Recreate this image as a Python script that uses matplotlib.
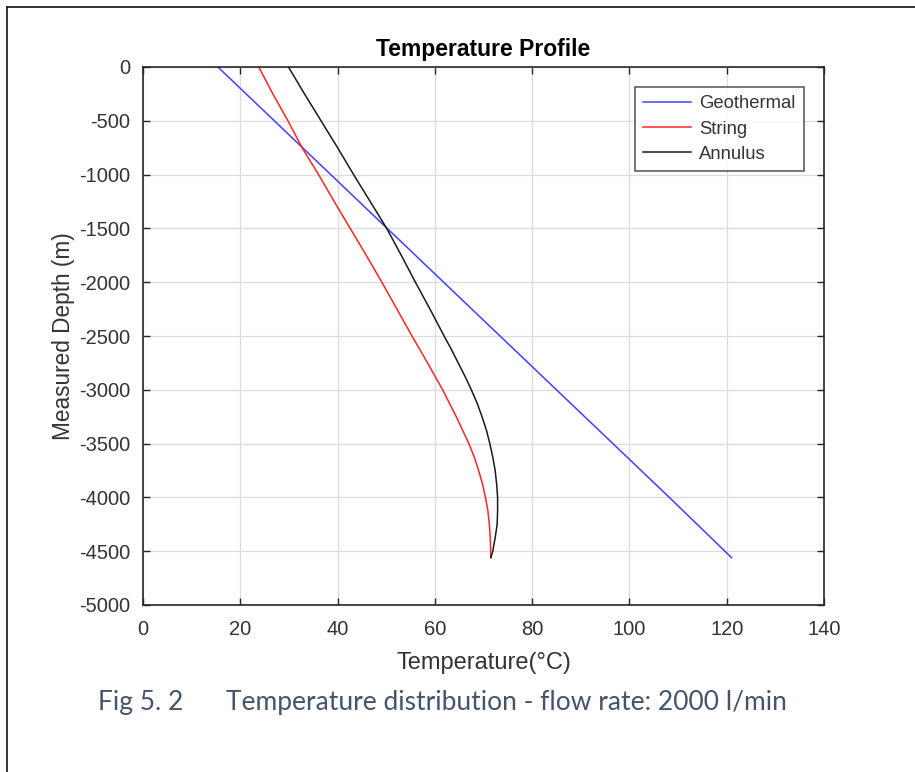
import matplotlib
matplotlib.use("Agg")
import matplotlib.pyplot as plt
from matplotlib.lines import Line2D

# Measured depth (m) and temperature (°C) along the well
geo_depth = [0, -500, -1000, -1500, -2000, -2500, -3000, -3500, -4000, -4560]
geo_temp = [15.4, 27.0, 38.6, 50.2, 61.8, 73.4, 85.0, 96.6, 108.2, 121.0]

string_depth = [0, -250, -500, -750, -1000, -1250, -1500, -1750, -2000, -2250,
                -2500, -2750, -3000, -3125, -3250, -3375, -3500, -3625, -3750,
                -3875, -4000, -4125, -4250, -4375, -4560]
string_temp = [23.8, 26.7, 29.8, 32.7, 36.1, 39.3, 42.6, 45.9, 49.1, 52.2,
               55.3, 58.5, 61.6, 63.0, 64.4, 65.7, 67.0, 68.1, 69.0,
               69.8, 70.4, 70.9, 71.2, 71.4, 71.5]

annulus_depth = [0, -250, -500, -750, -1000, -1250, -1500, -1750, -2000, -2250,
                 -2500, -2625, -2750, -2875, -3000, -3125, -3250, -3375, -3500,
                 -3625, -3750, -3875, -4000, -4125, -4250, -4375, -4500, -4560]
annulus_temp = [29.9, 33.2, 36.6, 40.0, 43.3, 46.7, 50.1, 53.1, 56.0, 59.0,
                61.9, 63.4, 64.8, 66.2, 67.5, 68.7, 69.7, 70.6, 71.3,
                71.9, 72.4, 72.7, 72.9, 72.9, 72.8, 72.4, 71.9, 71.5]

series_labels = ["Geothermal", "String", "Annulus"]
x_ticks = [0, 20, 40, 60, 80, 100, 120, 140]
y_ticks = [0, -500, -1000, -1500, -2000, -2500, -3000, -3500, -4000, -4500, -5000]

W, H = 915, 772
fig = plt.figure(figsize=(W / 100, H / 100), dpi=100)
fig.patch.set_facecolor("white")

ax = fig.add_axes([143 / W, 1 - 605 / H, (824 - 143) / W, (605 - 67) / H])

axis_color = "#262626"
text_color = "#333333"
ax.plot(geo_temp, geo_depth, color="#4040ff", lw=1.1, label=series_labels[0])
ax.plot(string_temp, string_depth, color="#ff2424", lw=1.1, label=series_labels[1])
ax.plot(annulus_temp, annulus_depth, color="#1a1a1a", lw=1.1, label=series_labels[2])

ax.set_xlim(0, 140)
ax.set_ylim(-5000, 0)
ax.set_xticks(x_ticks)
ax.set_yticks(y_ticks)
ax.set_xticklabels([str(v) for v in x_ticks])
ax.set_yticklabels([str(v) for v in y_ticks])

font = "Liberation Sans"
ax.tick_params(direction="in", top=True, right=True, length=5, width=1.0,
               color=axis_color, labelcolor=text_color, labelsize=14.5)
ax.tick_params(axis="x", pad=11)
ax.tick_params(axis="y", pad=9)
for lab in ax.get_xticklabels() + ax.get_yticklabels():
    lab.set_fontfamily(font)
for sp in ax.spines.values():
    sp.set_color(axis_color)
    sp.set_linewidth(1.2)

ax.grid(True, color="#dcdcdc", lw=0.9)
ax.set_axisbelow(True)

ax.set_title("Temperature Profile", fontfamily=font, fontweight="bold",
             fontsize=16.5, color="black", pad=8)
ax.set_xlabel("Temperature(°C)", fontfamily=font, fontsize=17,
              color=text_color, labelpad=9)
ax.set_ylabel("Measured Depth (m)", fontfamily=font, fontsize=16.3,
              color=text_color, labelpad=3)

leg = ax.legend(loc="upper right", bbox_to_anchor=(1 - 20 / 681, 1 - 20 / 538),
                frameon=True, fancybox=False, edgecolor=axis_color,
                prop={"family": font, "size": 13.3}, handlelength=2.6,
                handletextpad=0.45, borderpad=0.45, labelspacing=0.45,
                borderaxespad=0)
leg.get_frame().set_linewidth(1.1)
for t in leg.get_texts():
    t.set_color(text_color)

# Caption below the chart
cap_color = "#44546a"
fig.text(98 / W, 1 - 710 / H, "Fig 5. 2", fontfamily="Lato", fontsize=19,
         color=cap_color, va="baseline", ha="left")
fig.text(226 / W, 1 - 710 / H, "Temperature distribution - flow rate: 2000 l/min",
         fontfamily="Lato", fontsize=19, color=cap_color, va="baseline", ha="left")

# Cell border lines (top and left)
fig.add_artist(Line2D([7 / W, 1.0], [1 - 7 / H, 1 - 7 / H], color="#222222", lw=1.3,
                      transform=fig.transFigure))
fig.add_artist(Line2D([7 / W, 7 / W], [1 - 7 / H, 0.0], color="#222222", lw=1.3,
                      transform=fig.transFigure))

fig.savefig("out.png", dpi=100, facecolor="white")
